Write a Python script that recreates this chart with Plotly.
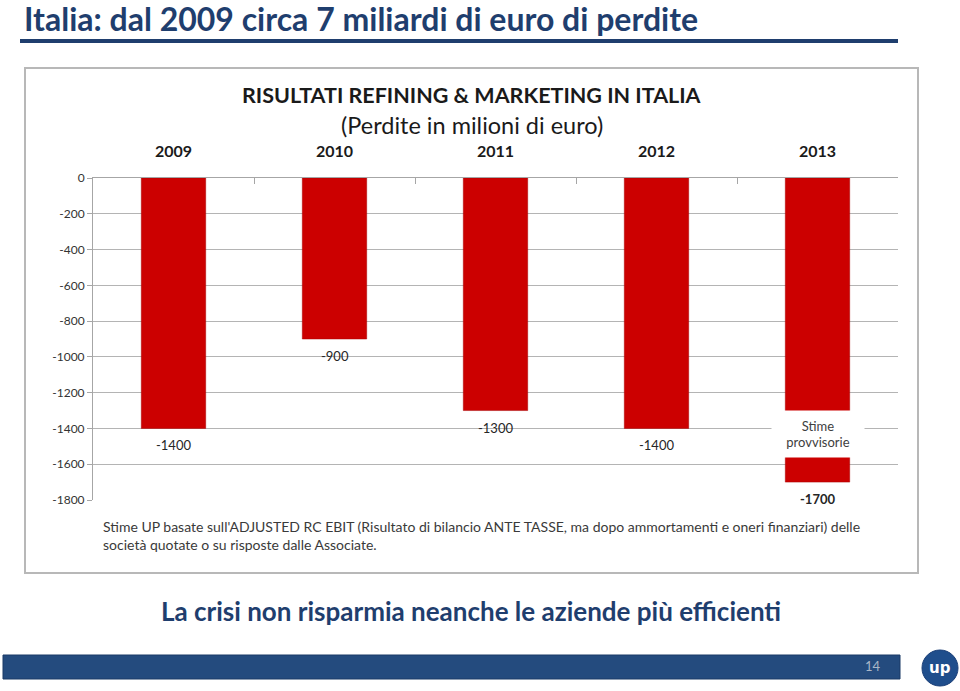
import plotly.graph_objects as go

# ---- data ----
years = ["2009", "2010", "2011", "2012", "2013"]
losses = [-1400, -900, -1300, -1400, -1700]
value_labels = ["-1400", "-900", "-1300", "-1400", "<b>-1700</b>"]
estimate_note = "Stime<br>provvisorie"
estimate_index = 4          # position of 2013 on the category axis
estimate_note_y = -1432
y_ticks = [0, -200, -400, -600, -800, -1000, -1200, -1400, -1600, -1800]
y_tick_labels = ["0", "-200", "-400", "-600", "-800", "-1000", "-1200", "-1400", "-1600", "-1800"]

slide_title = "Italia: dal 2009 circa 7 miliardi di euro di perdite"
chart_title = "RISULTATI REFINING & MARKETING IN ITALIA"
chart_subtitle = "(Perdite in milioni di euro)"
footnote = ("Stime UP basate sull'ADJUSTED RC EBIT (Risultato di bilancio ANTE TASSE, ma dopo "
            "ammortamenti e oneri finanziari) delle<br>società quotate o su risposte dalle Associate.")
bottom_msg = "La crisi non risparmia neanche le aziende più efficienti"
page_no = "14"

W, H = 960, 691
def px(x):
    return x / W
def py(y):
    return 1 - y / H

NAVY = "#1F3E6E"
HEAD = "Lato, Carlito, sans-serif"
BODY = "Lato, Carlito, Open Sans, sans-serif"
GRID = "#B4B4B4"

fig = go.Figure()
fig.add_trace(go.Bar(
    x=years, y=losses,
    marker=dict(color="#CC0000", line=dict(color="#A80000", width=0.5)),
    hoverinfo="skip",
))

annotations = []
for i, (v, lab) in enumerate(zip(losses, value_labels)):
    annotations.append(dict(x=i, y=v, xref="x", yref="y", text=lab, showarrow=False,
                            yanchor="top", yshift=-7,
                            font=dict(family=BODY, size=13, color="#262626")))
annotations.append(dict(x=estimate_index, y=estimate_note_y, xref="x", yref="y",
                        text=estimate_note, showarrow=False, bgcolor="white",
                        width=92, height=46, borderpad=0,
                        font=dict(family=BODY, size=13, color="#404040")))

annotations += [
    dict(x=px(22), y=py(18), xref="paper", yref="paper", xanchor="left", yanchor="middle",
         text="<b>" + slide_title + "</b>", showarrow=False,
         font=dict(family=HEAD, size=32, color=NAVY)),
    dict(x=px(472), y=py(95), xref="paper", yref="paper", xanchor="center", yanchor="middle",
         text="<b>" + chart_title + "</b>", showarrow=False,
         font=dict(family=BODY, size=21.5, color="#1a1a1a")),
    dict(x=px(472), y=py(125), xref="paper", yref="paper", xanchor="center", yanchor="middle",
         text=chart_subtitle, showarrow=False,
         font=dict(family=BODY, size=23.5, color="#1a1a1a")),
    dict(x=px(101), y=py(535.5), xref="paper", yref="paper", xanchor="left", yanchor="middle",
         align="left", text=footnote, showarrow=False,
         font=dict(family=BODY, size=14, color="#3a3a3a")),
    dict(x=px(471), y=py(611), xref="paper", yref="paper", xanchor="center", yanchor="middle",
         text="<b>" + bottom_msg + "</b>", showarrow=False,
         font=dict(family=HEAD, size=26, color=NAVY)),
    dict(x=px(873), y=py(666), xref="paper", yref="paper", xanchor="center", yanchor="middle",
         text=page_no, showarrow=False,
         font=dict(family=BODY, size=13, color="#A9B6C8")),
    dict(x=px(940), y=py(668), xref="paper", yref="paper", xanchor="center", yanchor="middle",
         text="<b>up</b>", showarrow=False,
         font=dict(family="DejaVu Sans, sans-serif", size=15, color="white")),
]

shapes = [
    dict(type="line", xref="paper", yref="paper", x0=px(20), x1=px(898), y0=py(41), y1=py(41),
         line=dict(color=NAVY, width=4)),
    dict(type="rect", xref="paper", yref="paper", x0=px(25), x1=px(918), y0=py(573), y1=py(68),
         line=dict(color="#B8B8B8", width=2)),
    dict(type="rect", xref="paper", yref="paper", x0=px(3), x1=px(900), y0=py(679), y1=py(655),
         line=dict(color="#1A3A66", width=1), fillcolor="#244B7E"),
    dict(type="circle", xref="paper", yref="paper", x0=px(922), x1=px(958), y0=py(686), y1=py(650),
         line=dict(color="#1A3F78", width=1), fillcolor="#1F4E8C"),
]

fig.update_layout(
    width=W, height=H,
    margin=dict(l=0, r=0, t=0, b=0, autoexpand=False),
    paper_bgcolor="white", plot_bgcolor="white",
    showlegend=False,
    bargap=0.6,
    annotations=annotations,
    shapes=shapes,
    xaxis=dict(domain=[px(93), px(898)], side="top", type="category",
               categoryorder="array", categoryarray=years, range=[-0.5, len(years) - 0.5],
               showline=True, linecolor="#A6A6A6", linewidth=1,
               ticks="inside", tickson="boundaries", ticklen=6, tickcolor="#A6A6A6",
               showgrid=False, ticklabelstandoff=14, automargin=False, tickangle=0,
               tickfont=dict(family=BODY, size=16, color="#1a1a1a", weight="bold")),
    yaxis=dict(domain=[py(500), py(178)], range=[-1800, 0],
               tickmode="array", tickvals=y_ticks, ticktext=y_tick_labels,
               showline=True, linecolor="#A6A6A6", linewidth=1,
               ticks="outside", ticklen=5, tickcolor="#A6A6A6", automargin=False,
               showgrid=True, gridcolor=GRID, gridwidth=1, zeroline=False,
               tickfont=dict(family=BODY, size=12, color="#333333")),
)

fig.write_html("out.html")
